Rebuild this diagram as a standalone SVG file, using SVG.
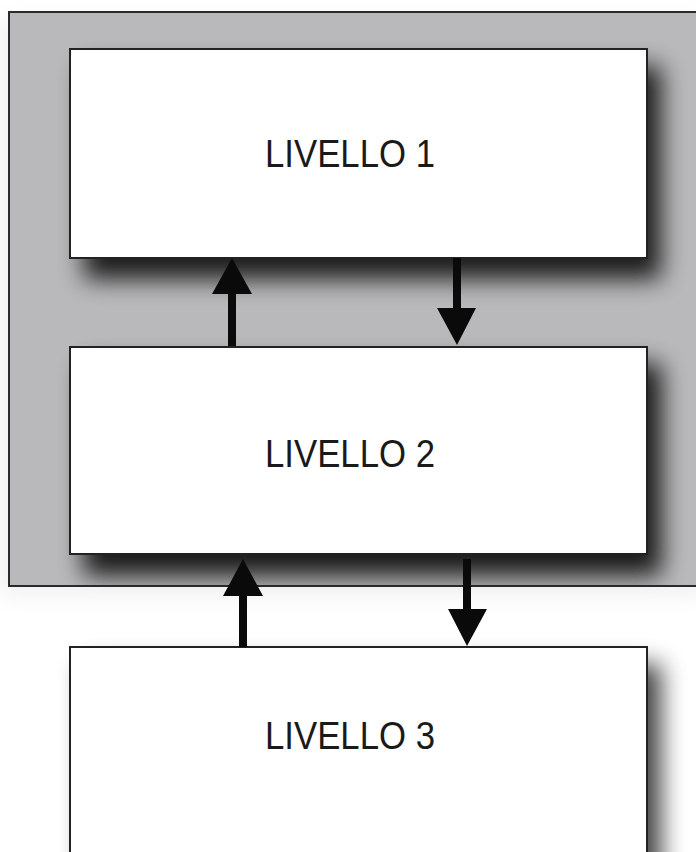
<svg xmlns="http://www.w3.org/2000/svg" width="696" height="852" viewBox="0 0 696 852">
  <defs>
    <style>
      .panel { fill: #b9b9bb; stroke: #2a2a2a; stroke-width: 2; }
      .box { fill: #ffffff; stroke: #222222; stroke-width: 2; }
      .label { font-family: "Liberation Sans", Arial, sans-serif; font-size: 39px; fill: #1a1a1a; }
      .arrow { fill: #0a0a0a; }
      .shadow { fill: #000000; filter: url(#soft); }
    </style>
    <filter id="soft" x="-20%" y="-40%" width="140%" height="180%">
      <feGaussianBlur stdDeviation="12"/>
    </filter>
    <clipPath id="panelClip">
      <rect x="10" y="13" width="686" height="572"/>
    </clipPath>
  </defs>

  <rect width="696" height="852" fill="#ffffff"/>

  <!-- grey panel holding levels 1 and 2 -->
  <g id="panel">
    <rect x="0" y="20" width="710" height="575" fill="#000" opacity="0.06" filter="url(#soft)"/>
    <rect class="panel" x="9" y="12" width="700" height="574"/>
  </g>

  <!-- drop shadows -->
  <g id="shadows">
    <g clip-path="url(#panelClip)" opacity="0.85">
      <rect class="shadow" x="84" y="66" width="577" height="213"/>
      <rect class="shadow" x="84" y="364" width="577" height="211"/>
    </g>
    <g opacity="0.08">
      <rect class="shadow" x="84" y="364" width="577" height="211"/>
    </g>
    <g opacity="0.75">
      <rect class="shadow" x="84" y="664" width="577" height="230"/>
    </g>
  </g>

  <g id="level1">
    <rect class="box" x="70" y="49" width="577" height="209"/>
    <text class="label" x="265" y="167" textLength="170" lengthAdjust="spacingAndGlyphs">LIVELLO 1</text>
  </g>

  <g id="level2">
    <rect class="box" x="70" y="347" width="577" height="207"/>
    <text class="label" x="265" y="467" textLength="170" lengthAdjust="spacingAndGlyphs">LIVELLO 2</text>
  </g>

  <g id="level3">
    <rect class="box" x="70" y="647" width="577" height="230"/>
    <text class="label" x="265" y="749" textLength="170" lengthAdjust="spacingAndGlyphs">LIVELLO 3</text>
  </g>

  <!-- connectors between levels -->
  <g id="connectors">
    <path class="arrow" d="M228,346 V294 H212 L232,258 L252,294 H236 V346 Z"/>
    <path class="arrow" d="M453,258 V308 H437 L457,345 L476,308 H461 V258 Z"/>
    <path class="arrow" d="M239,647 V596 H223 L243,559 L263,596 H247 V647 Z"/>
    <path class="arrow" d="M463,559 V609 H448 L467,646 L487,609 H471 V559 Z"/>
  </g>
</svg>
